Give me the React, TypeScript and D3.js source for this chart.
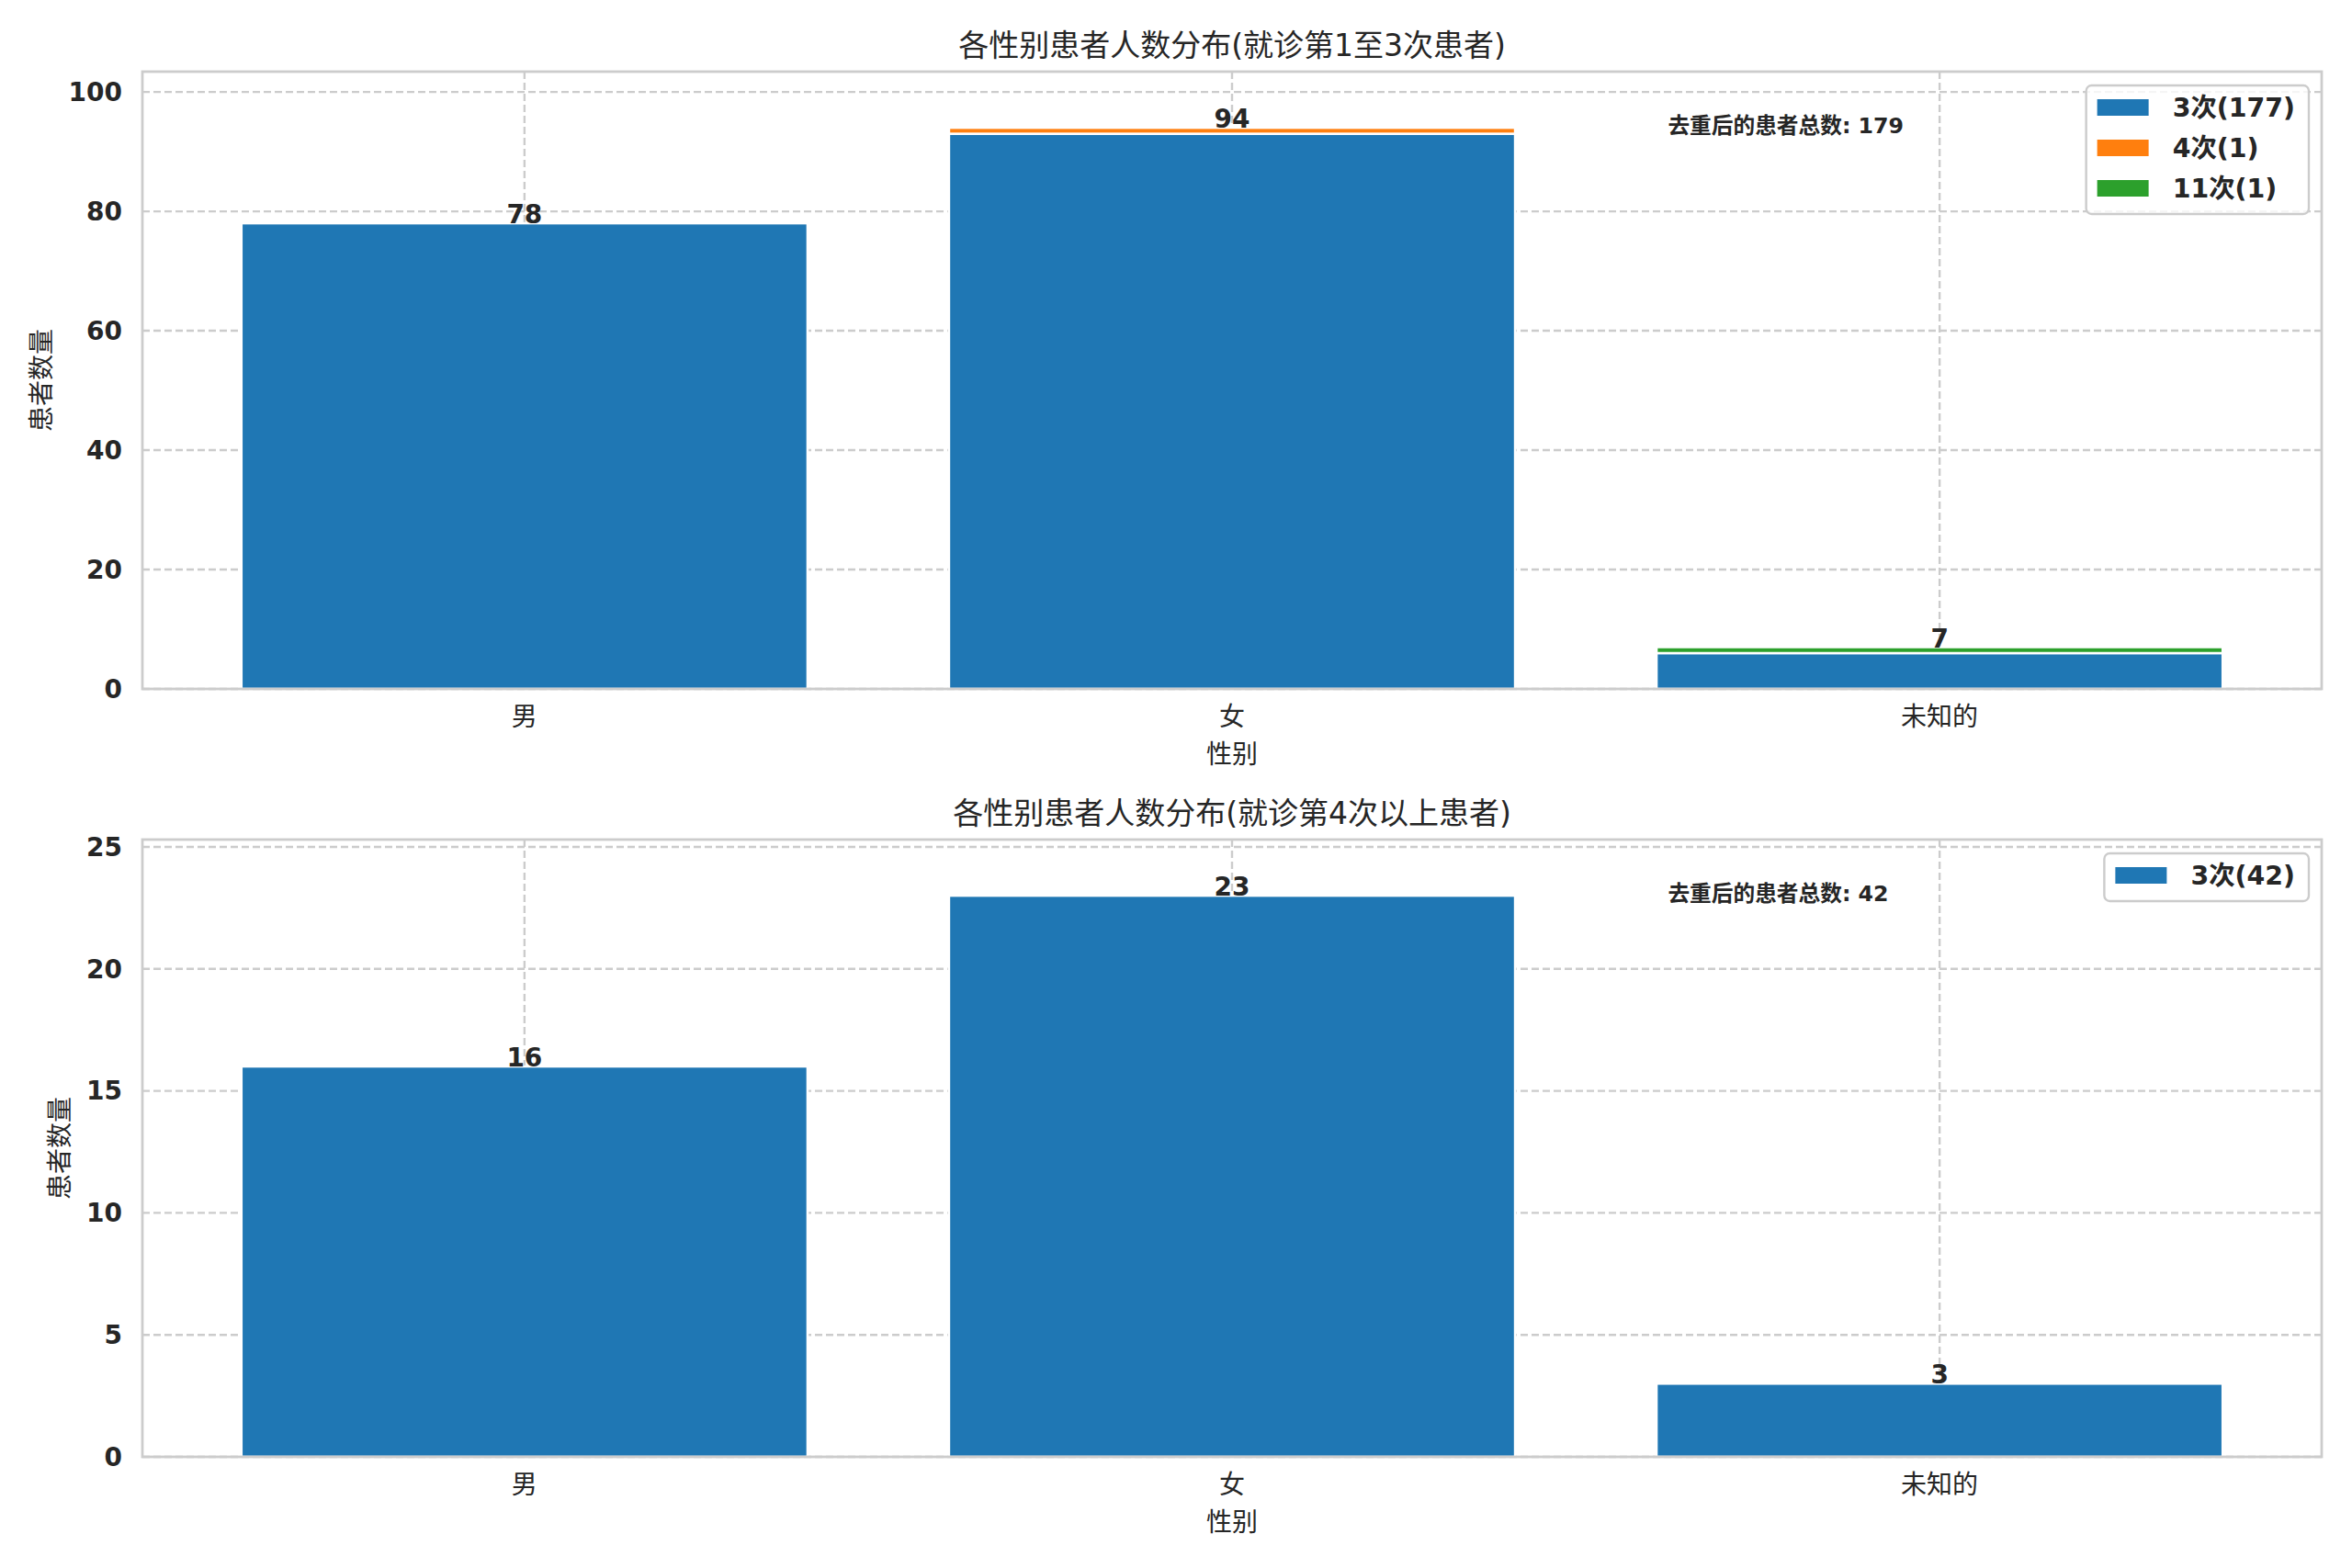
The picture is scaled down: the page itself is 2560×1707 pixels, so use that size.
import React from 'react'
import * as d3 from 'd3'

// 数据
const categories = ['男', '女', '未知的']

const visitKeys1 = ['3次', '4次', '11次']
const visits3_p1 = [78, 93, 6]
const visits4_p1 = [0, 1, 0]
const visits11_p1 = [0, 0, 1]

const visitKeys2 = ['3次']
const visits3_p2 = [16, 23, 3]

const yTicks1 = [0, 20, 40, 60, 80, 100]
const yTicks2 = [0, 5, 10, 15, 20, 25]

const title1 = '各性别患者人数分布(就诊第1至3次患者)'
const title2 = '各性别患者人数分布(就诊第4次以上患者)'
const totalLabel = '去重后的患者总数'
const xLabel = '性别'
const yLabel = '患者数量'

const colors = ['#1f77b4', '#ff7f0e', '#2ca02c']
const W = 2560
const H = 1707
const FONT = '"DejaVu Sans", "Noto Sans CJK SC", sans-serif'
const TEXT = '#262626'

type Panel = {
  top: number
  title: string
  keys: string[]
  series: number[][]
  ticks: number[]
}

const drawPanel = (svg: d3.Selection<SVGSVGElement, unknown, null, undefined>, p: Panel) => {
  const left = 155
  const right = 2527
  const top = p.top
  const bottom = p.top + 672

  const rows = categories.map((c, i) => {
    const r: Record<string, any> = { cat: c }
    p.keys.forEach((k, j) => (r[k] = p.series[j][i]))
    return r
  })
  const totals = rows.map((r) => d3.sum(p.keys, (k) => r[k]))
  const maxTotal = d3.max(totals) || 0

  const x = d3.scaleLinear().domain([-0.54, 2.54]).range([left, right])
  const y = d3.scaleLinear().domain([0, maxTotal * 1.1]).range([bottom, top])

  const g = svg.append('g').style('font-family', FONT)

  // 网格
  g.selectAll('.hgrid')
    .data(p.ticks)
    .enter()
    .append('line')
    .attr('x1', left)
    .attr('x2', right)
    .attr('y1', (d) => y(d))
    .attr('y2', (d) => y(d))
    .attr('stroke', '#cccccc')
    .attr('stroke-width', 2.4)
    .attr('stroke-dasharray', '8,4')
  g.selectAll('.vgrid')
    .data(categories)
    .enter()
    .append('line')
    .attr('x1', (d, i) => x(i))
    .attr('x2', (d, i) => x(i))
    .attr('y1', top)
    .attr('y2', bottom)
    .attr('stroke', '#cccccc')
    .attr('stroke-width', 2.4)
    .attr('stroke-dasharray', '8,4')

  // 柱子
  const stacked = d3.stack<Record<string, any>>().keys(p.keys)(rows)
  const bw = 0.8
  stacked.forEach((layer, j) => {
    g.selectAll(`.bar${j}`)
      .data(layer)
      .enter()
      .append('rect')
      .attr('x', (d, i) => x(i - bw / 2))
      .attr('width', x(bw) - x(0))
      .attr('y', (d) => y(d[1]))
      .attr('height', (d) => y(d[0]) - y(d[1]))
      .attr('fill', colors[j])
      .attr('stroke', (d) => (d[1] - d[0] > 0 ? '#ffffff' : 'none'))
      .attr('stroke-width', 2.5)
  })

  // 边框
  g.append('rect')
    .attr('x', left)
    .attr('y', top)
    .attr('width', right - left)
    .attr('height', bottom - top)
    .attr('fill', 'none')
    .attr('stroke', '#cccccc')
    .attr('stroke-width', 2.8)

  // 数值标签
  g.selectAll('.val')
    .data(totals)
    .enter()
    .append('text')
    .attr('x', (d, i) => x(i))
    .attr('y', (d) => y(d))
    .attr('text-anchor', 'middle')
    .attr('font-size', 28)
    .attr('font-weight', 'bold')
    .attr('fill', TEXT)
    .text((d) => d)

  // y 轴刻度
  g.selectAll('.ytick')
    .data(p.ticks)
    .enter()
    .append('text')
    .attr('x', left - 22)
    .attr('y', (d) => y(d))
    .attr('dy', '0.35em')
    .attr('text-anchor', 'end')
    .attr('font-size', 28)
    .attr('font-weight', 'bold')
    .attr('fill', TEXT)
    .text((d) => d)

  // x 轴刻度
  g.selectAll('.xtick')
    .data(categories)
    .enter()
    .append('text')
    .attr('x', (d, i) => x(i))
    .attr('y', bottom + 30)
    .attr('dominant-baseline', 'central')
    .attr('text-anchor', 'middle')
    .attr('font-size', 28)
    .attr('fill', TEXT)
    .text((d) => d)

  g.append('text')
    .attr('x', (left + right) / 2)
    .attr('y', bottom + 71)
    .attr('dominant-baseline', 'central')
    .attr('text-anchor', 'middle')
    .attr('font-size', 28)
    .attr('fill', TEXT)
    .text(xLabel)

  const maxDigits = d3.max(p.ticks, (t) => String(t).length) || 1
  const ylx = left - 22 - maxDigits * 19.5 - 29
  g.append('text')
    .attr('transform', `translate(${ylx},${(top + bottom) / 2}) rotate(-90)`)
    .attr('dominant-baseline', 'central')
    .attr('text-anchor', 'middle')
    .attr('font-size', 28)
    .attr('fill', TEXT)
    .text(yLabel)

  // 标题
  g.append('text')
    .attr('x', (left + right) / 2)
    .attr('y', top - 29)
    .attr('dominant-baseline', 'central')
    .attr('text-anchor', 'middle')
    .attr('font-size', 33)
    .attr('fill', TEXT)
    .text(p.title)

  // 总数注释
  g.append('text')
    .attr('x', left + 0.7 * (right - left))
    .attr('y', top + 59)
    .attr('dominant-baseline', 'central')
    .attr('font-size', 23.7)
    .attr('font-weight', 'bold')
    .attr('fill', TEXT)
    .text(`${totalLabel}: ${d3.sum(totals)}`)

  // 图例
  const legend = g.append('g')
  const box = legend.append('rect')
  const items = p.keys.map((k, j) => `${k}(${d3.sum(p.series[j])})`)
  const texts = legend
    .selectAll('.lt')
    .data(items)
    .enter()
    .append('text')
    .attr('y', (d, j) => top + 39 + j * 44)
    .attr('dominant-baseline', 'central')
    .attr('font-size', 28.4)
    .attr('font-weight', 'bold')
    .attr('fill', TEXT)
    .text((d) => d)
  let maxW = 0
  texts.each(function () {
    maxW = Math.max(maxW, (this as SVGTextElement).getComputedTextLength())
  })
  const boxRight = right - 14
  const boxLeft = boxRight - 15 - maxW - 94
  texts.attr('x', boxLeft + 94)
  legend
    .selectAll('.lp')
    .data(items)
    .enter()
    .append('rect')
    .attr('x', boxLeft + 12)
    .attr('y', (d, j) => top + 39 + j * 44 - 9)
    .attr('width', 56)
    .attr('height', 18)
    .attr('fill', (d, j) => colors[j])
  box
    .attr('x', boxLeft)
    .attr('y', top + 15)
    .attr('width', boxRight - boxLeft)
    .attr('height', 24 + (items.length - 1) * 44 + 28)
    .attr('rx', 6)
    .attr('fill', 'rgba(255,255,255,0.8)')
    .attr('stroke', '#cccccc')
    .attr('stroke-width', 2.4)
}

const App = () => {
  const ref = React.useRef<SVGSVGElement | null>(null)

  React.useEffect(() => {
    const svg = d3.select(ref.current as SVGSVGElement)
    svg.selectAll('*').remove()
    svg.append('rect').attr('width', W).attr('height', H).attr('fill', '#ffffff')
    drawPanel(svg, {
      top: 78,
      title: title1,
      keys: visitKeys1,
      series: [visits3_p1, visits4_p1, visits11_p1],
      ticks: yTicks1,
    })
    drawPanel(svg, {
      top: 914,
      title: title2,
      keys: visitKeys2,
      series: [visits3_p2],
      ticks: yTicks2,
    })
  }, [])

  return (
    <div style={{ position: 'absolute', left: 0, top: 0 }}>
      <svg ref={ref} width={W} height={H}></svg>
    </div>
  )
}

export default App
